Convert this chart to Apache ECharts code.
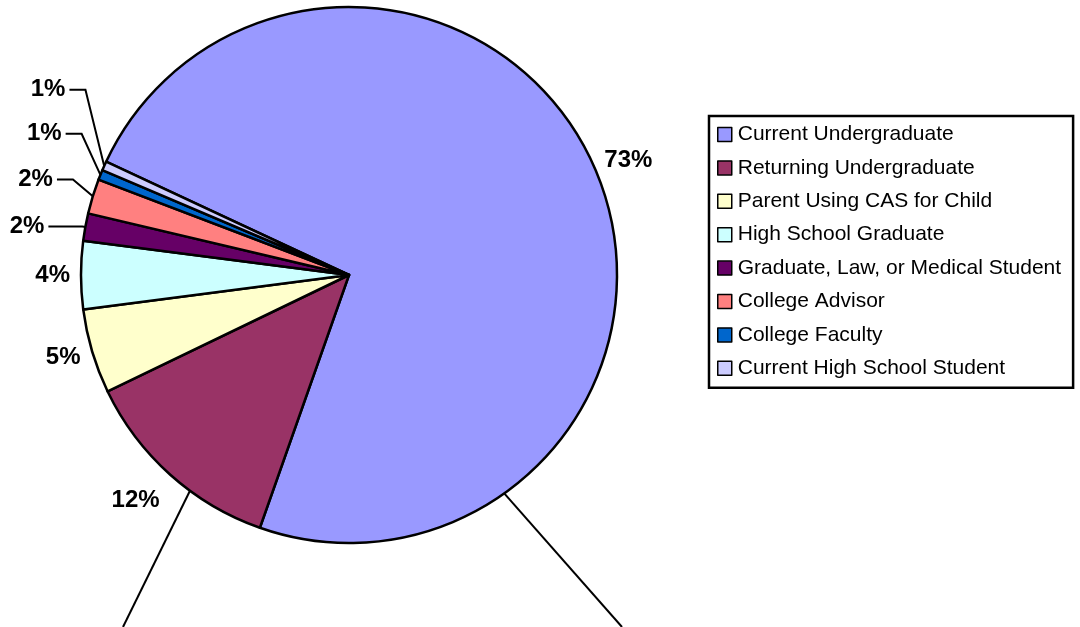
<!DOCTYPE html>
<html><head><meta charset="utf-8">
<script src="https://cdn.jsdelivr.net/npm/echarts@6/dist/echarts.min.js"></script>
<style>html,body{margin:0;padding:0;background:#fff}#chart{width:1080px;height:627px}</style>
</head><body><div id="chart"></div>
<script>
const categories = [
  'Current Undergraduate',
  'Returning Undergraduate',
  'Parent Using CAS for Child',
  'High School Graduate',
  'Graduate, Law, or Medical Student',
  'College Advisor',
  'College Faculty',
  'Current High School Student'
];
const values = [73.45, 12.45, 5.1, 4.1, 1.65, 2.1, 0.6, 0.55];
const colors = ['#9999FF', '#993366', '#FFFFCC', '#CCFFFF', '#660066', '#FF8080', '#0066CC', '#CCCCFF'];
const hasLeader = [false, false, false, false, true, true, true, true];

const FONT = 'Liberation Sans, Arial, sans-serif';
const cx = 349, cy = 275, R = 268;
// label nudges (x, y) relative to the natural ECharts outside position
const nudge = [[-5, -7], [0, 18], [2, 3], [3, 0], [0, 0], [1, -16], [2, -40], [2, -75]];

const chart = echarts.init(document.getElementById('chart'), null, { renderer: 'canvas' });

function edgePoint(deg) {
  const a = deg * Math.PI / 180;
  return [cx + R * Math.cos(a), cy - R * Math.sin(a)];
}
const pA = edgePoint(-54.6), pB = edgePoint(-126.4);

const option = {
  animation: false,
  backgroundColor: '#fff',
  legend: {
    orient: 'vertical',
    left: 709,
    top: 116,
    padding: [8, 12, 9, 8],
    borderColor: '#000',
    borderWidth: 2.5,
    itemWidth: 14,
    itemHeight: 14,
    itemGap: 12.4,
    icon: 'rect',
    itemStyle: { borderColor: '#000', borderWidth: 1.5 },
    textStyle: { fontFamily: FONT, fontSize: 21, lineHeight: 21, color: '#000', padding: [0, 0, 0, 1] },
    data: categories
  },
  graphic: [
    { type: 'line', z: 1, shape: { x1: pA[0], y1: pA[1], x2: 622, y2: 627 }, style: { stroke: '#000', lineWidth: 2 } },
    { type: 'line', z: 1, shape: { x1: pB[0], y1: pB[1], x2: 123, y2: 627 }, style: { stroke: '#000', lineWidth: 2 } }
  ],
  series: [{
    type: 'pie',
    center: [cx, cy],
    radius: [0, R],
    startAngle: 155,
    clockwise: true,
    avoidLabelOverlap: false,
    emphasis: { disabled: true },
    itemStyle: { borderColor: '#000', borderWidth: 2.5 },
    label: {
      show: true,
      position: 'outside',
      fontFamily: FONT,
      fontSize: 24,
      fontWeight: 'bold',
      color: '#000',
      distanceToLabelLine: 4,
      formatter: p => Math.round(p.percent) + '%'
    },
    labelLine: { show: true, length: 3, length2: 34, lineStyle: { color: '#000', width: 2 } },
    labelLayout: function (p) {
      const i = p.dataIndex, n = nudge[i], r = p.labelRect;
      const ax = p.align === 'right' ? r.x + r.width : (p.align === 'center' ? r.x + r.width / 2 : r.x);
      const ay = r.y + r.height / 2;
      const res = { x: ax + n[0], y: ay + n[1] };
      const pts = p.labelLinePoints;
      if (hasLeader[i] && pts && pts.length === 3) {
        const y = pts[2][1] + n[1];
        const endX = pts[2][0] + n[0];
        const elbowX = Math.abs(n[1]) < 5 ? pts[1][0] : endX + 16;
        res.labelLinePoints = [pts[0], [elbowX, y], [endX, y]];
      }
      return res;
    },
    data: categories.map((name, i) => ({
      name: name,
      value: values[i],
      itemStyle: { color: colors[i] },
      labelLine: hasLeader[i] ? { show: true } : { show: false, length: 10, length2: 0 }
    }))
  }]
};
chart.setOption(option);
</script>
</body></html>
